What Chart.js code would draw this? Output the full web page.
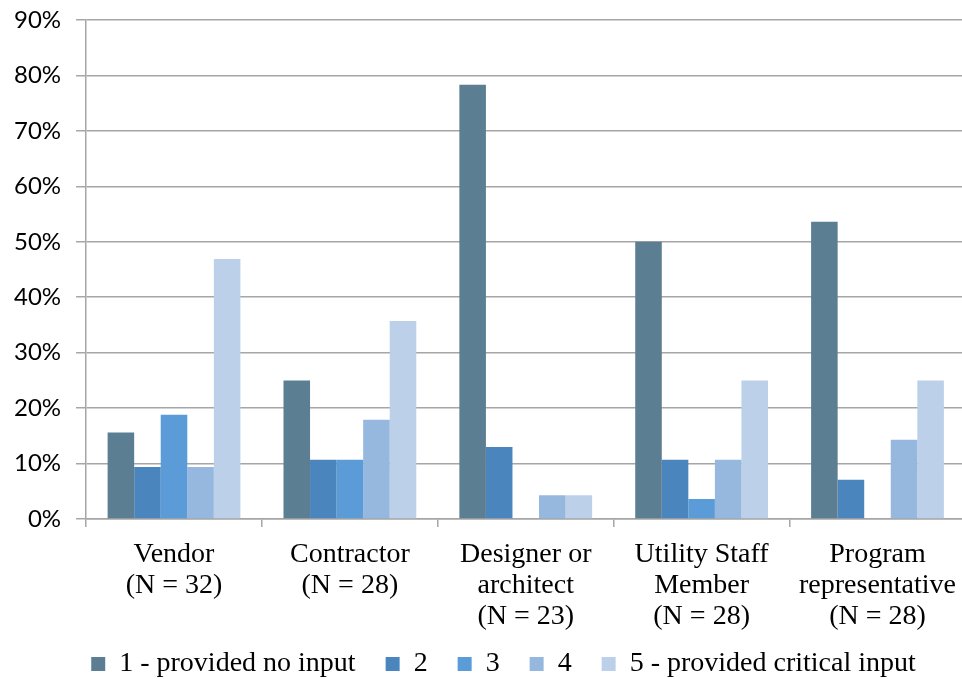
<!DOCTYPE html>
<html>
<head>
<meta charset="utf-8">
<script src="https://cdn.jsdelivr.net/npm/chart.js@4"></script>
<style>
html,body{margin:0;padding:0;overflow:hidden;background:#fff;width:962px;height:679px;}
#wrap{position:relative;width:968px;height:679px;}
</style>
</head>
<body>
<div id="wrap"><canvas id="c" width="968" height="679"></canvas></div>
<script>
const categories = [
  ["Vendor","(N = 32)"],
  ["Contractor","(N = 28)"],
  ["Designer or","architect","(N = 23)"],
  ["Utility Staff","Member","(N = 28)"],
  ["Program","representative","(N = 28)"]
];
const seriesNames = ["1 - provided no input","2","3","4","5 - provided critical input"];
const s1 = [15.6, 25.0, 78.3, 50.0, 53.6];
const s2 = [9.4, 10.7, 13.0, 10.7, 7.1];
const s3 = [18.8, 10.7, 0, 3.6, 0];
const s4 = [9.4, 17.9, 4.3, 10.7, 14.3];
const s5 = [46.9, 35.7, 4.3, 25.0, 25.0];
const yTicks = [0,10,20,30,40,50,60,70,80,90];

const colors = ["#5b7e92","#4a86bd","#5b9bd7","#96b8df","#bcd0ea"];
const allSeries = [s1,s2,s3,s4,s5];

const gridColor = "#a6a6a6";
const serif = "'Liberation Serif', 'Times New Roman', serif";

const legendShift = {
  id: 'legendShift',
  afterLayout(chart) {
    const lg = chart.legend;
    if (!lg) return;
    lg.top -= 24; lg.bottom -= 24;
    lg.left += 20; lg.right += 20;
  }
};

new Chart(document.getElementById("c"), {
  type: "bar",
  data: {
    labels: categories,
    datasets: allSeries.map((d,i)=>({
      label: seriesNames[i],
      data: d,
      backgroundColor: colors[i],
      borderWidth: 0,
      barPercentage: 1.0,
      categoryPercentage: 0.755
    }))
  },
  plugins: [legendShift],
  options: {
    responsive: false,
    animation: false,
    devicePixelRatio: 1,
    layout: {padding: {top: 0, left: -1, right: 0, bottom: -33}},
    plugins: {
      tooltip: {enabled: false},
      legend: {
        position: "bottom",
        labels: {
          boxWidth: 14, boxHeight: 14,
          padding: 30,
          color: "#000",
          font: {family: serif, size: 28}
        }
      }
    },
    scales: {
      x: {
        offset: true,
        grid: {offset: true, drawOnChartArea: false, tickLength: 8, color: gridColor, lineWidth: 1.5},
        border: {color: gridColor, width: 1.5},
        ticks: {
          color: "#000",
          padding: 12,
          maxRotation: 0, autoSkip: false,
          font: {family: serif, size: 28, lineHeight: 1.107}
        }
      },
      y: {
        min: 0, max: 90,
        afterBuildTicks: (axis) => { axis.ticks = yTicks.map(v=>({value:v})); },
        afterFit: (scale) => { scale.paddingTop = 20; },
        grid: {color: gridColor, tickLength: 10, lineWidth: 1.5},
        border: {color: gridColor, width: 1.5},
        ticks: {
          color: "#000",
          padding: 15,
          callback: (v) => v + "%",
          font: {family: "Lato, 'Open Sans', sans-serif", size: 24}
        }
      }
    }
  }
});
</script>
</body>
</html>
